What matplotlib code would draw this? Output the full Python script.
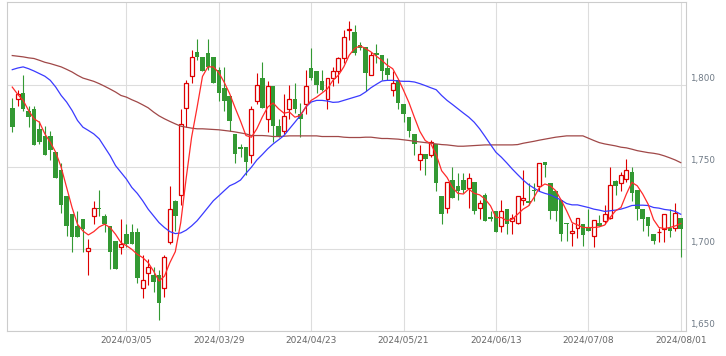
import numpy as np
import matplotlib
matplotlib.use('Agg')
import matplotlib.pyplot as plt
from matplotlib.transforms import ScaledTranslation

# daily candles, oldest first
opens = [1786, 1791, 1795, 1784, 1785, 1773, 1769, 1769, 1759, 1748,
         1732, 1721, 1714, 1718, 1698.5, 1720, 1725, 1720, 1714, 1705,
         1701, 1709, 1710, 1710, 1676, 1685.5, 1684, 1684, 1676, 1704,
         1729, 1733, 1786, 1805, 1820, 1817, 1819, 1817, 1809, 1798,
         1793, 1770, 1762, 1762, 1757, 1790, 1804, 1779, 1799, 1775,
         1772, 1785, 1791, 1782, 1788, 1810, 1808, 1802, 1791, 1804,
         1808, 1816, 1833, 1832, 1824, 1823, 1806, 1819, 1818, 1810,
         1797, 1803, 1788, 1780, 1770, 1754, 1758, 1757, 1764, 1732,
         1725, 1742, 1738, 1742, 1737, 1741, 1725, 1733, 1719.5, 1723,
         1714, 1724, 1717, 1716, 1730, 1729, 1736, 1738, 1753, 1740,
         1735, 1730, 1716, 1709.5, 1713, 1715, 1713, 1708, 1716, 1717,
         1719, 1741.5, 1740, 1742.5, 1747, 1736, 1724, 1719.5, 1709, 1710,
         1712, 1713, 1713, 1719]
highs = [1792, 1797, 1806, 1787, 1787, 1778, 1775, 1772, 1759, 1752,
         1732, 1721, 1723, 1718, 1706, 1729, 1736, 1721, 1714, 1705,
         1718, 1715, 1715, 1713, 1696, 1694, 1689, 1687, 1696, 1738,
         1730, 1785, 1803, 1821, 1828, 1817, 1828, 1817, 1811, 1811,
         1793, 1770, 1764, 1762, 1787, 1807, 1814, 1802, 1799, 1779,
         1794, 1800, 1801, 1789, 1809, 1822, 1808, 1809, 1804, 1811,
         1817, 1833, 1839, 1836, 1826, 1823, 1820, 1825, 1818, 1816,
         1808, 1803, 1788, 1780, 1770, 1763, 1758, 1766, 1764, 1732,
         1741, 1750, 1746, 1746, 1746, 1741, 1730, 1734, 1723, 1723,
         1730, 1724, 1721, 1732, 1748, 1740, 1740, 1752, 1753, 1740,
         1735, 1730, 1716, 1716, 1719, 1715, 1724, 1717.5, 1720.5, 1727,
         1750, 1742, 1747, 1755, 1750, 1736, 1724, 1719.5, 1709, 1713,
         1721, 1724, 1728, 1719]
lows = [1771, 1787, 1784, 1774, 1763, 1764, 1757, 1754, 1743, 1722,
        1708, 1698, 1707, 1698, 1684, 1715, 1720, 1710, 1688, 1688,
        1697, 1701, 1703, 1679, 1670, 1678, 1674, 1657, 1671, 1703,
        1711, 1727, 1774, 1801, 1815, 1808, 1809, 1801, 1790, 1784,
        1772, 1752, 1756, 1745, 1752, 1788, 1786, 1771, 1765, 1768,
        1770, 1779, 1783, 1768, 1782, 1803, 1795, 1796, 1785, 1799,
        1801, 1813, 1827, 1818, 1821, 1796, 1806, 1813, 1803, 1803,
        1793, 1785, 1777, 1768, 1757, 1748, 1745, 1756, 1735, 1715,
        1722, 1731, 1730, 1734, 1725, 1721, 1718, 1717, 1717, 1710,
        1710, 1709, 1709, 1715, 1727, 1727, 1729, 1735, 1744, 1718,
        1717, 1705, 1705, 1702, 1706.5, 1702, 1711, 1701, 1714, 1715,
        1718, 1733, 1735, 1740.5, 1729, 1717.5, 1711, 1708, 1703, 1704,
        1704, 1707, 1711, 1695]
closes = [1774, 1794, 1785, 1780, 1763, 1765, 1757, 1760, 1743, 1727,
          1714, 1707, 1707, 1712, 1700.5, 1725, 1724, 1715, 1698, 1688,
          1703, 1703, 1703, 1682, 1681, 1689, 1680, 1667, 1695, 1724,
          1720, 1776, 1801, 1817, 1817, 1808, 1811, 1801, 1795, 1790,
          1778, 1758, 1761, 1753, 1785, 1800, 1786, 1799, 1775, 1769,
          1781, 1791, 1785, 1779, 1799, 1804, 1800, 1797, 1804, 1808.5,
          1816, 1829, 1834, 1819, 1822, 1807, 1818, 1818, 1808, 1806,
          1801, 1789, 1782, 1772, 1764, 1758, 1755, 1765, 1740, 1721,
          1741, 1731, 1735, 1736, 1743, 1723, 1728, 1717, 1718, 1710,
          1723, 1715, 1719, 1732, 1731, 1728, 1735, 1752, 1751, 1723,
          1723, 1709, 1715, 1711, 1719, 1708.5, 1711, 1717.5, 1714, 1721,
          1739, 1738, 1745, 1748, 1734, 1724, 1718, 1714, 1705, 1710.5,
          1721, 1711, 1722, 1712]

# moving averages as drawn on the chart
ma_short = [1798.5, 1794.1, 1790.4, 1784.3, 1779.2, 1777.1, 1770.0, 1764.9, 1758.8, 1749.7,
            1737.4, 1725.2, 1715.0, 1710.9, 1708.5, 1710.5, 1713.4, 1715.0, 1713.0, 1708.9,
            1703.8, 1702.0, 1699.7, 1696.7, 1694.7, 1691.6, 1686.5, 1680.4, 1683.4, 1691.6,
            1698.3, 1716.0, 1743.0, 1768.0, 1786.0, 1805.0, 1810.8, 1810.8, 1807.3, 1801.4,
            1794.5, 1785.9, 1777.8, 1769.0, 1768.0, 1773.1, 1780.2, 1786.3, 1788.8, 1785.3,
            1782.6, 1783.3, 1780.2, 1781.2, 1786.3, 1790.4, 1792.4, 1794.9, 1797.5, 1802.6,
            1805.7, 1810.8, 1817.9, 1822.0, 1823.6, 1822.0, 1819.9, 1817.3, 1814.8, 1811.8,
            1809.7, 1803.6, 1796.5, 1789.0, 1780.0, 1771.5, 1765.9, 1764.0, 1757.5, 1747.6,
            1743.5, 1737.4, 1733.8, 1733.4, 1736.4, 1733.8, 1732.9, 1730.3, 1726.2, 1719.1,
            1719.1, 1717.1, 1718.1, 1721.1, 1724.2, 1726.2, 1731.3, 1737.4, 1739.5, 1738.4,
            1735.4, 1729.7, 1723.2, 1716.0, 1714.6, 1713.0, 1713.0, 1713.0, 1713.4, 1714.5,
            1719.1, 1723.2, 1725.2, 1733.4, 1740.5, 1738.4, 1733.4, 1727.2, 1717.8, 1713.0,
            1712.4, 1713.0, 1714.0, 1715.4]
ma_mid = [1809.1, 1810.1, 1810.8, 1809.7, 1808.3, 1806.7, 1805.1, 1802.6, 1798.5, 1793.4,
          1789.4, 1784.3, 1778.2, 1774.1, 1772.1, 1770.0, 1767.0, 1761.9, 1756.8, 1750.7,
          1746.6, 1742.5, 1737.4, 1733.8, 1729.3, 1724.2, 1720.1, 1716.0, 1713.0, 1710.5,
          1709.3, 1709.7, 1711.4, 1714.0, 1717.1, 1721.1, 1725.2, 1729.3, 1732.3, 1735.4,
          1738.4, 1739.9, 1741.9, 1746.0, 1749.7, 1754.1, 1757.4, 1760.9, 1763.9, 1766.4,
          1769.0, 1773.1, 1777.1, 1781.2, 1786.3, 1789.4, 1790.4, 1790.4, 1790.0, 1789.2,
          1789.4, 1790.4, 1791.4, 1792.4, 1793.4, 1795.5, 1798.1, 1800.2, 1802.2, 1802.6,
          1802.6, 1802.2, 1802.0, 1802.0, 1801.6, 1800.6, 1799.4, 1798.1, 1796.9, 1793.4,
          1790.4, 1787.9, 1785.3, 1782.7, 1780.2, 1777.1, 1773.1, 1768.4, 1763.5, 1758.8,
          1755.8, 1752.3, 1748.6, 1745.2, 1741.9, 1739.1, 1737.0, 1735.0, 1733.8, 1732.9,
          1731.3, 1729.7, 1727.6, 1726.8, 1726.8, 1726.0, 1725.2, 1724.2, 1723.6, 1722.8,
          1723.2, 1723.6, 1724.2, 1725.2, 1726.4, 1726.6, 1726.6, 1726.4, 1725.2, 1724.8,
          1724.0, 1723.6, 1722.8, 1721.1]
ma_long = [1817.7, 1817.3, 1816.9, 1816.3, 1815.9, 1814.8, 1813.6, 1812.8, 1811.8, 1810.8,
           1809.3, 1807.7, 1805.7, 1804.0, 1803.0, 1802.0, 1800.6, 1799.0, 1797.3, 1795.5,
           1793.4, 1792.4, 1790.8, 1789.4, 1787.7, 1785.9, 1783.3, 1781.0, 1779.2, 1777.6,
           1776.1, 1774.7, 1774.1, 1773.5, 1773.1, 1773.1, 1772.9, 1772.7, 1772.5, 1772.1,
           1771.7, 1771.2, 1770.6, 1770.0, 1769.0, 1769.0, 1769.0, 1768.8, 1768.4, 1768.4,
           1768.6, 1768.8, 1768.8, 1768.8, 1768.8, 1768.8, 1768.8, 1768.4, 1768.4, 1768.4,
           1768.4, 1768.0, 1767.8, 1767.8, 1767.8, 1768.0, 1768.0, 1767.6, 1767.2, 1767.2,
           1767.0, 1766.8, 1766.4, 1766.0, 1765.5, 1765.1, 1764.7, 1764.3, 1763.9, 1763.5,
           1763.3, 1762.9, 1762.5, 1762.5, 1762.7, 1762.9, 1763.1, 1763.3, 1763.3, 1763.3,
           1763.3, 1763.3, 1763.3, 1763.5, 1764.3, 1764.9, 1765.5, 1766.2, 1766.8, 1767.4,
           1768.0, 1768.4, 1768.8, 1768.8, 1768.8, 1768.8, 1767.4, 1766.0, 1764.7, 1763.9,
           1763.3, 1762.7, 1761.9, 1761.5, 1760.7, 1759.8, 1759.2, 1758.6, 1758.2, 1757.6,
           1756.6, 1755.4, 1754.1, 1752.5]

# date labels, newest last, one every 17 sessions back from the last candle
date_labels = ['2024/03/05', '2024/03/29', '2024/04/23', '2024/05/21',
               '2024/06/13', '2024/07/08', '2024/08/01']
price_ticks = [1650, 1700, 1750, 1800]
price_labels = ['1,650', '1,700', '1,750', '1,800']

UP = '#dd0000'
DOWN = '#339933'


def draw_candles(ax, o, h, l, c):
    x = np.arange(len(c))
    up = c >= o
    wick_colors = np.where(up, UP, DOWN)
    ax.vlines(x, l, h, colors=wick_colors, linewidth=0.8, zorder=2)

    bottom = np.minimum(o, c)
    height = np.maximum(np.abs(c - o), 0.5)
    ax.bar(x[up], height[up], bottom=bottom[up], width=0.72, facecolor='white',
           edgecolor=UP, linewidth=0.9, zorder=3)
    ax.bar(x[~up], height[~up], bottom=bottom[~up], width=0.84, color=DOWN,
           linewidth=0, zorder=3)
    return x


if __name__ == '__main__':
    o = np.array(opens, dtype=float)
    h = np.array(highs, dtype=float)
    l = np.array(lows, dtype=float)
    c = np.array(closes, dtype=float)

    fig = plt.figure(figsize=(7.26, 3.56), dpi=100)
    ax = fig.add_axes([0.01, 0.0702, 0.935, 0.9228])

    x = draw_candles(ax, o, h, l, c)
    ax.plot(x, ma_long, color='#a04848', linewidth=0.9, zorder=4)
    ax.plot(x, ma_mid, color='#3a3aff', linewidth=0.9, zorder=4)
    ax.plot(x, ma_short, color='#ff2a2a', linewidth=0.9, zorder=4)

    n = len(c)
    tick_pos = [n - 1 - 17 * k for k in range(len(date_labels))][::-1]
    ax.set_xticks(tick_pos)
    ax.set_xticklabels(date_labels, fontsize=6.5, color='#666666')
    ax.set_xlim(-0.92, n - 0.02)

    # price labels sit a little above their grid lines, right of the plot
    ax.set_ylim(1650, 1850)
    ax.set_yticks(price_ticks)
    ax.set_yticklabels([])
    label_trans = ax.get_yaxis_transform() + ScaledTranslation(4 / 100, 6.6 / 100, fig.dpi_scale_trans)
    for val, txt in zip(price_ticks, price_labels):
        ax.text(1.0, val, txt, transform=label_trans, ha='left', va='center',
                fontsize=6.3, color='#6f7a86', clip_on=False)

    ax.tick_params(axis='x', length=0, pad=3.5)
    ax.tick_params(axis='y', length=0)
    ax.grid(True, color='#dddddd', linewidth=0.8, zorder=0)
    ax.set_axisbelow(True)
    for s in ax.spines.values():
        s.set_color('#cccccc')
        s.set_linewidth(0.8)

    fig.savefig('out.png', dpi=100)
    plt.close(fig)
